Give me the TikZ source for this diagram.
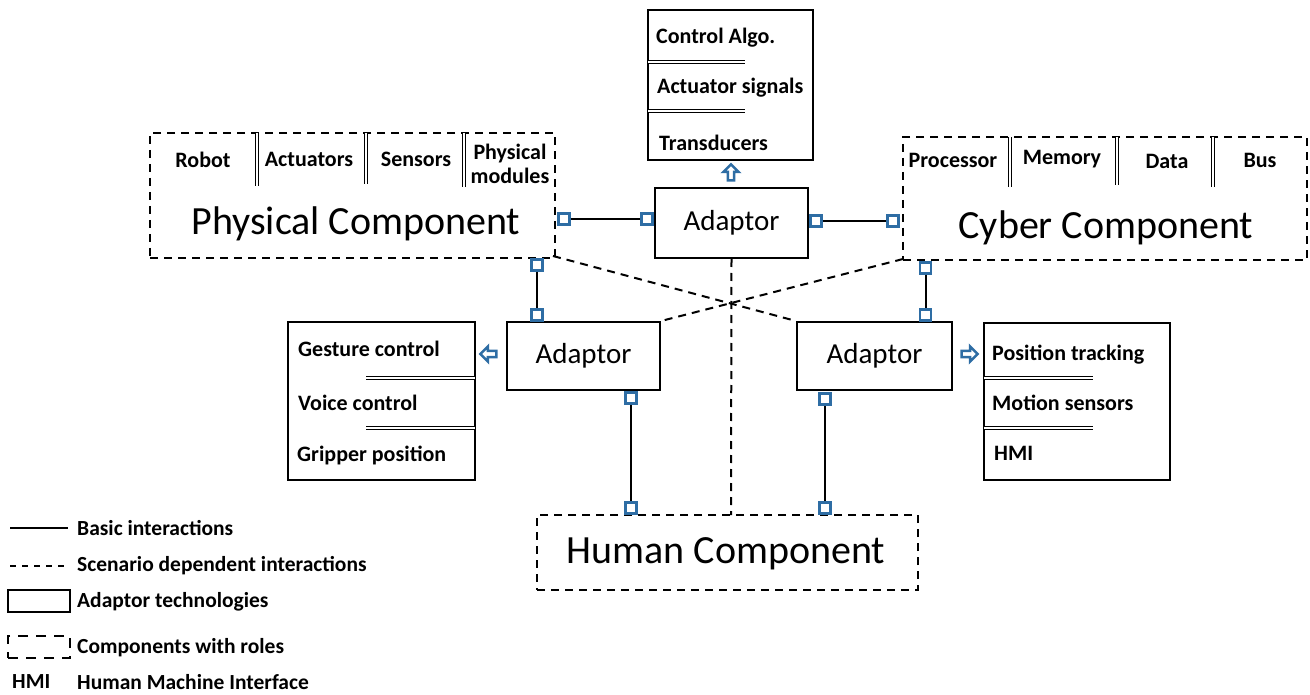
\documentclass[tikz,border=0pt]{standalone}
\usepackage{fontspec}
\setmainfont{Carlito}
\usetikzlibrary{shapes.arrows}
\definecolor{pblue}{HTML}{2E6DA4}
\tikzset{
  comp/.style={draw,line width=2pt,dash pattern=on 8pt off 6pt,inner sep=0pt},
  adapt/.style={draw,line width=2pt,inner sep=0pt,font=\fontsize{29}{34}\selectfont},
  listbox/.style={draw,line width=2pt,inner sep=0pt},
  lbl/.style={font=\bfseries\fontsize{22}{24}\selectfont,inner sep=0pt},
  big/.style={font=\fontsize{40}{44}\selectfont,inner sep=0pt},
  port/.style={draw=pblue,fill=white,line width=2.5pt,minimum size=11pt,inner sep=0pt},
  link/.style={line width=2pt},
  dlink/.style={line width=2pt,dash pattern=on 8pt off 6pt},
  dbl/.style={draw,line width=1pt,double distance=2pt},
  barr/.style={single arrow,draw=pblue,fill=white,line width=2.5pt,minimum height=16pt,minimum width=15pt,single arrow head extend=3pt,inner sep=1pt},
  leg/.style={font=\bfseries\fontsize{21.5}{24}\selectfont,anchor=west,inner sep=0pt}
}
\begin{document}
\begin{tikzpicture}[x=1pt,y=-1pt]
\useasboundingbox (0,0) rectangle (1310,695);
% component boxes
\node[comp,minimum width=405pt,minimum height=125pt] (phys) at (352.5,195.5) {};
\node[comp,minimum width=404pt,minimum height=123pt] (cyber) at (1105,198.5) {};
\node[comp,minimum width=381pt,minimum height=75pt] (human) at (727.5,552.5) {};
\node[big] (physT) at (356,224) {Physical Component};
\node[big] (cyberT) at (1106,228) {Cyber Component};
\node[big] (humanT) at (726,554) {Human Component};
% physical sub labels
\node[lbl] (robot) at (203,160) {Robot};
\node[lbl] (act) at (309,159) {Actuators};
\node[lbl] (sens) at (416,159) {Sensors};
\node[lbl,align=center] (pmod) at (510,164) {Physical\\modules};
\draw[dbl] (257,133) -- (257,186);
\draw[dbl] (366,133) -- (366,184);
\draw[dbl] (464,133) -- (464,187);
% cyber sub labels
\node[lbl] (proc) at (953,160) {Processor};
\node[lbl] (mem) at (1062,159) {Memory};
\node[lbl] (data) at (1167,161) {Data};
\node[lbl] (bus) at (1260,160) {Bus};
\draw[dbl] (1010,137) -- (1010,187);
\draw[dbl] (1117,137) -- (1117,185);
\draw[dbl] (1213,137) -- (1213,187);
% adaptors
\node[adapt,minimum width=153pt,minimum height=70pt] (adT) at (731.5,223) {Adaptor};
\node[adapt,minimum width=153pt,minimum height=68pt] (adL) at (583.5,356) {Adaptor};
\node[adapt,minimum width=155pt,minimum height=68pt] (adR) at (874.5,356) {Adaptor};
% list boxes
\node[listbox,minimum width=165pt,minimum height=150pt] (topL) at (730.5,85) {};
\node[lbl,anchor=west] (ca) at (656,38) {Control Algo.};
\node[lbl,anchor=west] (as) at (657,88) {Actuator signals};
\node[lbl,anchor=west] (tr) at (659,143) {Transducers};
\draw[dbl] (648,62) -- (745,62);
\draw[dbl] (648,111) -- (745,111);
\node[listbox,minimum width=187pt,minimum height=158pt] (leftL) at (381.5,401) {};
\node[lbl,anchor=west] (gc) at (298,349) {Gesture control};
\node[lbl,anchor=west] (vc) at (298,403) {Voice control};
\node[lbl,anchor=west] (gp) at (297,455) {Gripper position};
\draw[dbl] (366,378) -- (475,378);
\draw[dbl] (366,428) -- (475,428);
\node[listbox,minimum width=186pt,minimum height=157pt] (rightL) at (1077,401.5) {};
\node[lbl,anchor=west] (pt) at (992,355) {Position tracking};
\node[lbl,anchor=west] (ms) at (992,403) {Motion sensors};
\node[lbl,anchor=west] (hmi) at (994,453) {HMI};
\draw[dbl] (984,378) -- (1093,378);
\draw[dbl] (984,428) -- (1093,428);
% blue arrows
\node[barr,rotate=90] (arT) at (731,174) {};
\node[barr,rotate=180] (arL) at (490,354) {};
\node[barr] (arR) at (968,354) {};
% dashed scenario links
\coordinate (pc) at (553,256);
\coordinate (cc) at (903,259);
\coordinate (hc) at (731,515);
\draw[dlink] (pc) -- (adR.north west);
\draw[dlink] (cc) -- (adL.north east);
\draw[dlink] (adT.south) -- (hc);
% ports and solid links
\node[port] (p1) at (564,219) {};
\node[port] (p2) at (647,219) {};
\node[port] (p3) at (816,221) {};
\node[port] (p4) at (893,221) {};
\node[port] (p5) at (537,265) {};
\node[port] (p6) at (537,315) {};
\node[port] (p7) at (925.5,268) {};
\node[port] (p8) at (925.5,315) {};
\node[port] (p9) at (631,398) {};
\node[port] (p10) at (631,508) {};
\node[port] (p11) at (825,399) {};
\node[port] (p12) at (825,508) {};
\draw[link] (p1) -- (p2);
\draw[link] (p3) -- (p4);
\draw[link] (p5) -- (p6);
\draw[link] (p7) -- (p8);
\draw[link] (p9) -- (p10);
\draw[link] (p11) -- (p12);
% legend
\coordinate (l1a) at (10,528); \coordinate (l1b) at (68,528);
\draw[line width=1.5pt] (l1a) -- (l1b);
\node[leg] (lt1) at (77,528) {Basic interactions};
\coordinate (l2a) at (10,566); \coordinate (l2b) at (68,566);
\draw[line width=1.5pt,dash pattern=on 6pt off 6pt] (l2a) -- (l2b);
\node[leg] (lt2) at (77,566) {Scenario dependent interactions};
\node[draw,line width=2pt,minimum width=62pt,minimum height=22pt,inner sep=0pt] (lb3) at (39,601) {};
\node[leg] (lt3) at (77,602) {Adaptor technologies};
\node[draw,line width=2pt,dash pattern=on 10pt off 8pt,minimum width=62pt,minimum height=22pt,inner sep=0pt] (lb4) at (39,647) {};
\node[leg] (lt4) at (77,648) {Components with roles};
\node[leg] (lt5a) at (12,682) {HMI};
\node[leg] (lt5) at (77,682) {Human Machine Interface};
\end{tikzpicture}
\end{document}
